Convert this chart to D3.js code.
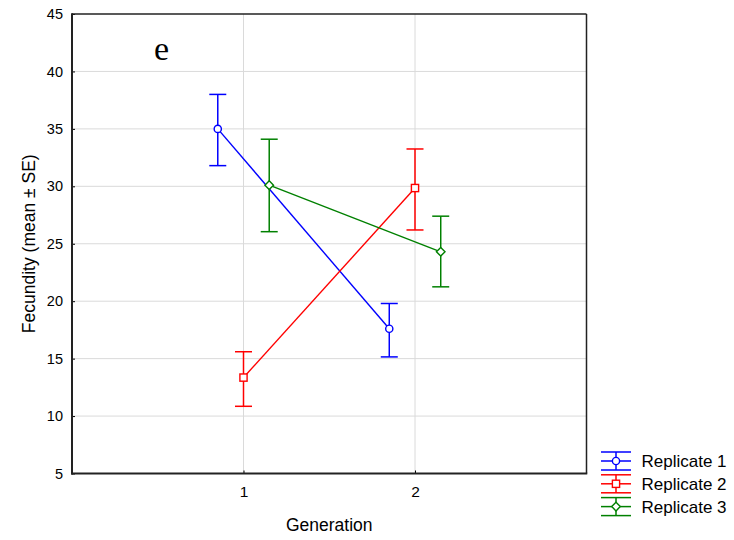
<!DOCTYPE html>
<html><head><meta charset="utf-8">
<script src="https://cdn.jsdelivr.net/npm/d3@7"></script>
<style>body{margin:0;background:#fff}svg{display:block}</style>
</head><body>
<script>
const generations = [1, 2];
const seriesNames = ["Replicate 1", "Replicate 2", "Replicate 3"];
const seriesColors = ["#0000ff", "#ff0000", "#008000"];
const seriesShapes = ["circle", "square", "diamond"];
const meanR1 = [35.0, 17.6];
const upperR1 = [38.0, 19.8];
const lowerR1 = [31.8, 15.15];
const meanR2 = [13.35, 29.85];
const upperR2 = [15.6, 33.25];
const lowerR2 = [10.85, 26.2];
const meanR3 = [30.1, 24.3];
const upperR3 = [34.1, 27.4];
const lowerR3 = [26.05, 21.25];
const yTicks = [5, 10, 15, 20, 25, 30, 35, 40, 45];
const xTicks = [1, 2];
const panelLabel = "e";

const means = [meanR1, meanR2, meanR3];
const uppers = [upperR1, upperR2, upperR3];
const lowers = [lowerR1, lowerR2, lowerR3];
const offsets = [-0.15, 0, 0.15];

const SANS = "'Liberation Sans', Arial, sans-serif";
const SERIF = "'Liberation Serif', 'Times New Roman', serif";
const W = 734, H = 540;
const L = 72, R = 586.5, T = 14, B = 473.5;
const svg = d3.select("body").append("svg").attr("width", W).attr("height", H);
const x = d3.scaleLinear().domain([0, 3]).range([L, R]);
const y = d3.scaleLinear().domain([5, 45]).range([B, T]);

// grid
svg.append("g").selectAll("line").data(yTicks.filter(d => d > 5 && d < 45)).join("line")
  .attr("x1", L).attr("x2", R).attr("y1", d => y(d)).attr("y2", d => y(d))
  .attr("stroke", "#dadada").attr("stroke-width", 1);
svg.append("g").selectAll("line").data(xTicks).join("line")
  .attr("y1", T).attr("y2", B).attr("x1", d => x(d)).attr("x2", d => x(d))
  .attr("stroke", "#dadada").attr("stroke-width", 1);

// axes
const yAxis = d3.axisLeft(y).tickValues(yTicks).tickSize(-3).tickPadding(9);
const gy = svg.append("g").attr("transform", `translate(${L},0)`).call(yAxis);
gy.select(".domain").remove();
gy.selectAll("text").style("font-size", "14.5px").style("font-family", SANS).attr("fill", "#000");
gy.selectAll(".tick line").attr("stroke", "#000");

const xAxis = d3.axisBottom(x).tickValues(xTicks).tickSize(-3).tickPadding(12).tickFormat(d3.format("d"));
const gx = svg.append("g").attr("transform", `translate(0,${B})`).call(xAxis);
gx.select(".domain").remove();
gx.selectAll("text").style("font-size", "15.5px").style("font-family", SANS).attr("fill", "#000");

// frame
svg.append("line").attr("x1", L).attr("x2", R).attr("y1", T).attr("y2", T).attr("stroke", "#222").attr("stroke-width", 1.5);
svg.append("line").attr("x1", R).attr("x2", R).attr("y1", T).attr("y2", B).attr("stroke", "#222").attr("stroke-width", 1.5);
svg.append("line").attr("x1", L).attr("x2", L).attr("y1", T - 0.75).attr("y2", B + 1).attr("stroke", "#222").attr("stroke-width", 2);
svg.append("line").attr("x1", L - 1).attr("x2", R + 0.75).attr("y1", B).attr("y2", B).attr("stroke", "#222").attr("stroke-width", 2);

function marker(g, shape, color, cx, cy) {
  if (shape === "circle") g.append("circle").attr("cx", cx).attr("cy", cy).attr("r", 3.6).attr("fill", "#fff").attr("stroke", color).attr("stroke-width", 1.4);
  else if (shape === "square") g.append("rect").attr("x", cx - 3.6).attr("y", cy - 3.6).attr("width", 7.2).attr("height", 7.2).attr("fill", "#fff").attr("stroke", color).attr("stroke-width", 1.4);
  else g.append("path").attr("d", `M${cx},${cy - 4.3}L${cx + 4.3},${cy}L${cx},${cy + 4.3}L${cx - 4.3},${cy}Z`).attr("fill", "#fff").attr("stroke", color).attr("stroke-width", 1.4);
}

const line = d3.line().x(d => x(d[0])).y(d => y(d[1]));
seriesNames.forEach((name, i) => {
  const g = svg.append("g");
  const pts = generations.map((gen, j) => [gen + offsets[i], means[i][j]]);
  g.append("path").attr("d", line(pts)).attr("fill", "none").attr("stroke", seriesColors[i]).attr("stroke-width", 1.4);
  generations.forEach((gen, j) => {
    const cx = x(gen + offsets[i]);
    g.append("line").attr("x1", cx).attr("x2", cx).attr("y1", y(uppers[i][j])).attr("y2", y(lowers[i][j])).attr("stroke", seriesColors[i]).attr("stroke-width", 1.5);
    [uppers[i][j], lowers[i][j]].forEach(v => {
      g.append("line").attr("x1", cx - 8.5).attr("x2", cx + 8.5).attr("y1", y(v)).attr("y2", y(v)).attr("stroke", seriesColors[i]).attr("stroke-width", 1.5);
    });
  });
  generations.forEach((gen, j) => marker(g, seriesShapes[i], seriesColors[i], x(gen + offsets[i]), y(means[i][j])));
});

// labels
svg.append("text").attr("x", 154).attr("y", 60).style("font-family", SERIF).style("font-size", "34px").attr("fill", "#000").text(panelLabel);
svg.append("text").attr("x", (L + R) / 2).attr("y", 531).attr("text-anchor", "middle").style("font-family", SANS).style("font-size", "17.5px").attr("fill", "#000").text("Generation");
svg.append("text").attr("transform", `translate(35,${(T + B) / 2}) rotate(-90)`).attr("text-anchor", "middle").style("font-family", SANS).style("font-size", "17.5px").attr("fill", "#000").text("Fecundity (mean ± SE)");

// legend
const lx = 616, ly0 = 461, dy = 22.8;
seriesNames.forEach((name, i) => {
  const g = svg.append("g");
  const cy = ly0 + i * dy, c = seriesColors[i];
  [-9, 0, 9].forEach(o => g.append("line").attr("x1", lx - 15).attr("x2", lx + 15).attr("y1", cy + o).attr("y2", cy + o).attr("stroke", c).attr("stroke-width", 1.5));
  g.append("line").attr("x1", lx).attr("x2", lx).attr("y1", cy - 9).attr("y2", cy + 9).attr("stroke", c).attr("stroke-width", 1.5);
  marker(g, seriesShapes[i], c, lx, cy);
  g.append("text").attr("x", 641.5).attr("y", cy + 6).style("font-family", SANS).style("font-size", "17px").attr("fill", "#000").text(name);
});
</script>
</body></html>
